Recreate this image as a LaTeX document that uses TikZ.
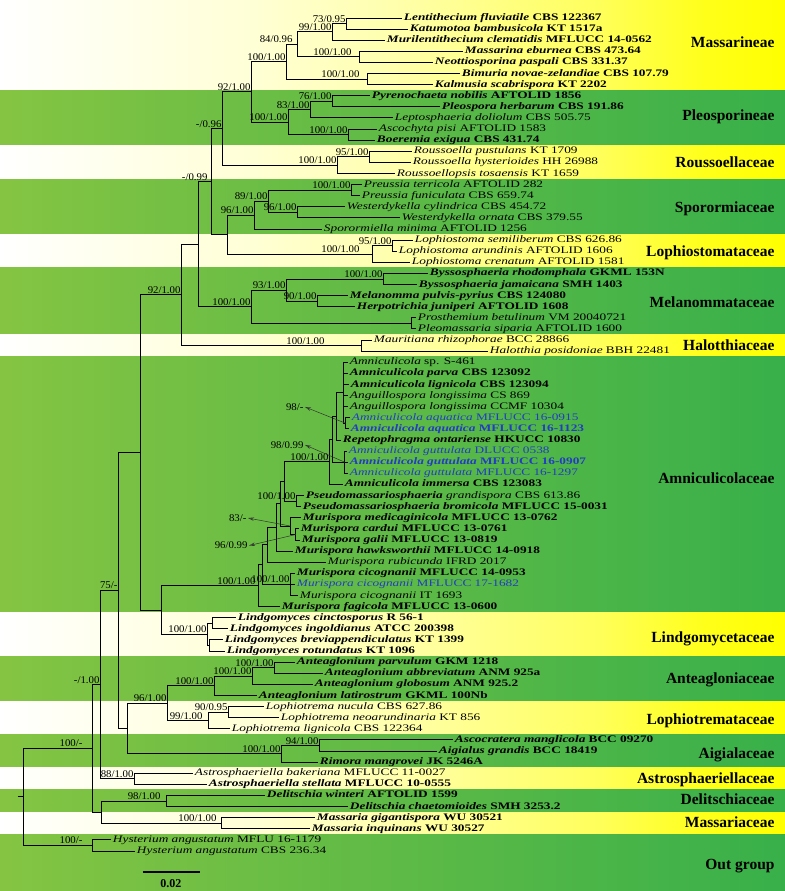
\documentclass[tikz,border=0pt]{standalone}
\usepackage{fontspec}
\setmainfont[FakeStretch=1.33]{Liberation Serif}
\newfontfamily\supfont[FakeStretch=1.05]{Liberation Serif}
\newfontfamily\famfont{Liberation Serif}
\usetikzlibrary{calc,arrows.meta}

\definecolor{taxblue}{RGB}{35,60,195}
\pgfdeclarehorizontalshading{ylwband}{100bp}{rgb(0bp)=(1,1,1); rgb(25bp)=(1,1,1); rgb(41bp)=(1,1,0.84); rgb(50bp)=(1,1,0.68); rgb(63bp)=(1,1,0.36); rgb(70bp)=(1,1,0.1); rgb(75bp)=(1,1,0); rgb(100bp)=(1,1,0)}
\pgfdeclarehorizontalshading{grnband}{100bp}{rgb(0bp)=(0.52,0.77,0.26); rgb(25bp)=(0.52,0.77,0.26); rgb(75bp)=(0.22,0.69,0.29); rgb(100bp)=(0.22,0.69,0.29)}

\newcommand{\bt}[2]{\textbf{\textit{#1} #2}}
\newcommand{\rt}[2]{\textit{#1} #2}
% clade: [label shift]{name}{x}{child}{child}{support}
\newcommand{\clade}[6][0]{%
  \path let \p1=(#4), \p2=(#5) in coordinate (#2) at (#3pt,{0.5*(\y1+\y2)});
  \draw (#2) |- (#4);
  \draw (#2) |- (#5);
  \if\relax\detokenize{#6}\relax\else
    \node (#2l) [supp, anchor=base east] at ([xshift=#1pt, yshift=1.5pt]#2) {#6};
  \fi}

\tikzset{leaf/.style={anchor=west, inner sep=1.5pt, text height=7pt, text depth=2pt,
                      font=\fontsize{10}{11}\selectfont},
         supp/.style={font=\supfont\fontsize{10.3}{11}\selectfont, inner sep=1pt},
         fam/.style={font=\famfont\fontsize{15.5}{16}\selectfont\bfseries, anchor=base east, inner sep=0pt},
         pointer/.style={-{Stealth[length=6pt,width=3.5pt,open]}, line width=0.5pt, black!80}}

\begin{document}
\begin{tikzpicture}[x=1pt, y=-11.107pt, line width=1pt]
\useasboundingbox (0,-0.6206) rectangle (785,79.6004);

\foreach \ya/\yb/\sh in {-0.63/7.5/ylwband, 7.5/12.5/grnband, 12.5/15.5/ylwband,
    15.5/20.5/grnband, 20.5/23.5/ylwband, 23.5/29.5/grnband, 29.5/31.5/ylwband,
    31.5/54.5/grnband, 54.5/58.5/ylwband, 58.5/62.5/grnband, 62.5/65.5/ylwband,
    65.5/68.5/grnband, 68.5/70.5/ylwband, 70.5/72.5/grnband, 72.5/74.5/ylwband,
    74.5/79.61/grnband}
  \shade[shading=\sh] (0,\ya) rectangle (785,\yb);

\foreach \row/\tip/\txt/\col in {
  1/402/{\bt{Lentithecium fluviatile}{CBS 122367}}/black,
  2/408/{\bt{Katumotoa bambusicola}{KT 1517a}}/black,
  3/385/{\bt{Murilentithecium clematidis}{MFLUCC 14-0562}}/black,
  4/463/{\bt{Massarina eburnea}{CBS 473.64}}/black,
  5/433/{\bt{Neottiosporina paspali}{CBS 331.37}}/black,
  6/460/{\bt{Bimuria novae-zelandiae}{CBS 107.79}}/black,
  7/433/{\bt{Kalmusia scabrispora}{KT 2202}}/black,
  8/370/{\bt{Pyrenochaeta nobilis}{AFTOLID 1856}}/black,
  9/440/{\bt{Pleospora herbarum}{CBS 191.86}}/black,
  10/393/{\rt{Leptosphaeria doliolum}{CBS 505.75}}/black,
  11/377/{\rt{Ascochyta pisi}{AFTOLID 1583}}/black,
  12/375/{\bt{Boeremia exigua}{CBS 431.74}}/black,
  13/412/{\rt{Roussoella pustulans}{KT 1709}}/black,
  14/411/{\rt{Roussoella hysterioides}{HH 26988}}/black,
  15/395/{\rt{Roussoellopsis tosaensis}{KT 1659}}/black,
  16/362/{\rt{Preussia terricola}{AFTOLID 282}}/black,
  17/360/{\rt{Preussia funiculata}{CBS 659.74}}/black,
  18/345/{\rt{Westerdykella cylindrica}{CBS 454.72}}/black,
  19/400/{\rt{Westerdykella ornata}{CBS 379.55}}/black,
  20/322/{\rt{Sporormiella minima}{AFTOLID 1256}}/black,
  21/413/{\rt{Lophiostoma semiliberum}{CBS 626.86}}/black,
  22/397/{\rt{Lophiostoma arundinis}{AFTOLID 1606}}/black,
  23/410/{\rt{Lophiostoma crenatum}{AFTOLID 1581}}/black,
  24/428/{\bt{Byssosphaeria rhodomphala}{GKML 153N}}/black,
  25/417/{\bt{Byssosphaeria jamaicana}{SMH 1403}}/black,
  26/348/{\bt{Melanomma pulvis-pyrius}{CBS 124080}}/black,
  27/355/{\bt{Herpotrichia juniperi}{AFTOLID 1608}}/black,
  28/416/{\rt{Prosthemium betulinum}{VM 20040721}}/black,
  29/416/{\rt{Pleomassaria siparia}{AFTOLID 1600}}/black,
  30/372/{\rt{Mauritiana rhizophorae}{BCC 28866}}/black,
  31/488/{\rt{Halotthia posidoniae}{BBH 22481}}/black,
  32/348/{\rt{Amniculicola}{sp. S-461}}/black,
  33/348/{\bt{Amniculicola parva}{CBS 123092}}/black,
  34/349/{\bt{Amniculicola lignicola}{CBS 123094}}/black,
  35/348/{\rt{Anguillospora longissima}{CS 869}}/black,
  36/348/{\rt{Anguillospora longissima}{CCMF 10304}}/black,
  37/350/{\rt{Amniculicola aquatica}{MFLUCC 16-0915}}/taxblue,
  38/349/{\bt{Amniculicola aquatica}{MFLUCC 16-1123}}/taxblue,
  39/341/{\bt{Repetophragma ontariense}{HKUCC 10830}}/black,
  40/347/{\rt{Amniculicola guttulata}{DLUCC 0538}}/taxblue,
  41/348/{\bt{Amniculicola guttulata}{MFLUCC 16-0907}}/taxblue,
  42/348/{\rt{Amniculicola guttulata}{MFLUCC 16-1297}}/taxblue,
  43/343/{\bt{Amniculicola immersa}{CBS 123083}}/black,
  44/304/{\textbf{\textit{Pseudomassariosphaeria}} \textit{grandispora} CBS 613.86}/black,
  45/301/{\bt{Pseudomassariosphaeria bromicola}{MFLUCC 15-0031}}/black,
  46/301/{\bt{Murispora medicaginicola}{MFLUCC 13-0762}}/black,
  47/299/{\bt{Murispora cardui}{MFLUCC 13-0761}}/black,
  48/300/{\bt{Murispora galii}{MFLUCC 13-0819}}/black,
  49/293/{\bt{Murispora hawksworthii}{MFLUCC 14-0918}}/black,
  50/326/{\rt{Murispora rubicunda}{IFRD 2017}}/black,
  51/295/{\bt{Murispora cicognanii}{MFLUCC 14-0953}}/black,
  52/295/{\rt{Murispora cicognanii}{MFLUCC 17-1682}}/taxblue,
  53/298/{\rt{Murispora cicognanii}{IT 1693}}/black,
  54/280/{\bt{Murispora fagicola}{MFLUCC 13-0600}}/black,
  55/236/{\bt{Lindgomyces cinctosporus}{R 56-1}}/black,
  56/228/{\bt{Lindgomyces ingoldianus}{ATCC 200398}}/black,
  57/223/{\bt{Lindgomyces breviappendiculatus}{KT 1399}}/black,
  58/225/{\bt{Lindgomyces rotundatus}{KT 1096}}/black,
  59/295/{\bt{Anteaglonium parvulum}{GKM 1218}}/black,
  60/323/{\bt{Anteaglonium abbreviatum}{ANM 925a}}/black,
  61/313/{\bt{Anteaglonium globosum}{ANM 925.2}}/black,
  62/257/{\bt{Anteaglonium latirostrum}{GKML 100Nb}}/black,
  63/264/{\rt{Lophiotrema nucula}{CBS 627.86}}/black,
  64/279/{\rt{Lophiotrema neoarundinaria}{KT 856}}/black,
  65/230/{\rt{Lophiotrema lignicola}{CBS 122364}}/black,
  66/453/{\bt{Ascocratera manglicola}{BCC 09270}}/black,
  67/437/{\bt{Aigialus grandis}{BCC 18419}}/black,
  68/318/{\bt{Rimora mangrovei}{JK 5246A}}/black,
  69/193/{\rt{Astrosphaeriella bakeriana}{MFLUCC 11-0027}}/black,
  70/207/{\bt{Astrosphaeriella stellata}{MFLUCC 10-0555}}/black,
  71/265/{\bt{Delitschia winteri}{AFTOLID 1599}}/black,
  72/348/{\bt{Delitschia chaetomioides}{SMH 3253.2}}/black,
  73/315/{\bt{Massaria gigantispora}{WU 30521}}/black,
  74/310/{\bt{Massaria inquinans}{WU 30527}}/black,
  75/111/{\rt{Hysterium angustatum}{MFLU 16-1179}}/black,
  76/135/{\rt{Hysterium angustatum}{CBS 236.34}}/black}
  \node (t\row) [leaf, text=\col] at (\tip,\row) {\txt};

% Massarineae, Pleosporineae
\clade{n73}{347}{t1.west}{t2.west}{73/0.95}
\clade{n99}{333}{n73}{t3.west}{99/1.00}
\clade[-7]{nMsa}{360}{t4.west}{t5.west}{100/1.00}
\clade[-4]{n84}{298}{n99}{nMsa}{84/0.96}
\clade[-7]{nBim}{368}{t6.west}{t7.west}{100/1.00}
\clade{nMasR}{287}{n84}{nBim}{100/1.00}
\clade{n76}{333}{t8.west}{t9.west}{76/1.00}
\clade{n83}{311}{n76}{t10.west}{83/1.00}
\clade{nAsc}{349}{t11.west}{t12.west}{100/1.00}
\clade{nPle}{289}{n83}{nAsc}{100/1.00}
\clade{nA}{252}{nMasR}{nPle}{92/1.00}
\clade{nRou}{370}{t13.west}{t14.west}{95/1.00}
\clade{nRouR}{338}{nRou}{t15.west}{100/1.00}
\clade{nB}{223}{nA}{nRouR}{-/0.96}
% Sporormiaceae, Lophiostomataceae
\clade{nPre}{352}{t16.west}{t17.west}{100/1.00}
\clade{nWes}{298}{t18.west}{t19.west}{96/1.00}
\clade{n89}{269}{nPre}{nWes}{89/1.00}
\clade{nSpo}{255}{n89}{t20.west}{96/1.00}
\clade{nLo95}{393}{t21.west}{t22.west}{95/1.00}
\clade[-12]{nLop}{373}{nLo95}{t23.west}{100/1.00}
\clade{nE}{228}{nSpo}{nLop}{}
\clade[-3]{nC}{212}{nB}{nE}{-/0.99}
% Melanommataceae, Halotthiaceae
\clade{nBys}{384}{t24.west}{t25.west}{100/1.00}
\clade{nMe90}{318}{t26.west}{t27.west}{90/1.00}
\clade{nMe93}{287}{nBys}{nMe90}{93/1.00}
\clade{nPro}{412}{t28.west}{t29.west}{}
\clade{nMel}{252}{nMe93}{nPro}{100/1.00}
\clade{nD}{199}{nC}{nMel}{}
\clade[-36]{nHal}{362}{t30.west}{t31.west}{100/1.00}
\clade{nF}{182}{nD}{nHal}{92/1.00}
% Amniculicolaceae
\clade{nAq}{346}{t37.west}{t38.west}{}
\clade{nAmC}{344}{t32.west}{nAq}{}
\foreach \k in {33,...,36} \draw (nAmC) |- (t\k.west);
\clade{nK2}{337}{nAmC}{t39.west}{}
\clade{nGut}{345}{t40.west}{t42.west}{}
\draw (nGut) |- (t41.west);
\clade{nK3}{333}{nK2}{nGut}{}
\clade{nK4}{330}{nK3}{t43.west}{100/1.00}
\clade{nPse}{297}{t44.west}{t45.west}{100/1.00}
\clade{nN1}{285}{nK4}{nPse}{}
\clade{nMu1}{296}{t47.west}{t48.west}{}
\clade{nMu2}{291}{t46.west}{nMu1}{}
\clade{nN2}{281}{nN1}{nMu2}{}
\clade{nN3}{277}{nN2}{t49.west}{}
\clade{nN4}{268}{nN3}{t50.west}{}
\clade{nCic}{291}{t51.west}{t53.west}{100/1.00}
\draw (nCic) |- (t52.west);
\clade{nX}{263}{nN4}{nCic}{}
\clade[-2]{nAmR}{259}{nX}{t54.west}{100/1.00}
\node (lab98a) [supp, anchor=east] at (305,36.02) {98/-};
\node (lab98b) [supp, anchor=east] at (305,39.44) {98/0.99};
\node (lab83) [supp, anchor=east] at (248,46.02) {83/-};
\node (lab96) [supp, anchor=east] at (249,48.5) {96/0.99};
\draw[pointer] (nAq) -- (lab98a.east);
\draw[pointer] (nGut) -- (lab98b.east);
\draw[pointer] (nMu2) -- (lab83.east);
\draw[pointer] (nMu1) -- (lab96.east);
% Lindgomycetaceae to Aigialaceae
\clade{nLi1}{213}{t55.west}{t56.west}{}
\clade{nLi2}{210}{t57.west}{t58.west}{}
\clade{nLin}{208}{nLi1}{nLi2}{100/1.00}
\clade{nH}{162}{nAmR}{nLin}{}
\clade{nG}{141}{nF}{nH}{}
\clade{nAn1}{275}{t59.west}{t60.west}{100/1.00}
\clade{nAn2}{253}{nAn1}{t61.west}{100/1.00}
\clade{nAnt}{215}{nAn2}{t62.west}{100/1.00}
\clade{nLt1}{229}{t63.west}{t64.west}{90/0.95}
\clade[-5]{nLt}{209}{nLt1}{t65.west}{99/1.00}
\clade{nQ}{168}{nAnt}{nLt}{96/1.00}
\clade{nAi1}{320}{t66.west}{t67.west}{94/1.00}
\clade{nAig}{282}{nAi1}{t68.west}{100/1.00}
\clade{nP}{128}{nQ}{nAig}{}
\clade{nI}{119}{nG}{nP}{75/-}
% basal families, out group
\clade{nAst}{135}{t69.west}{t70.west}{88/1.00}
\clade{nJ}{101}{nI}{nAst}{-/1.00}
\clade[-5]{nDel}{167}{t71.west}{t72.west}{98/1.00}
\clade[-4]{nMsr}{222}{t73.west}{t74.west}{100/1.00}
\clade{nS}{102}{nDel}{nMsr}{}
\clade[-9]{nK}{93}{nJ}{nS}{100/-}
\clade[-9]{nHys}{93}{t75.west}{t76.west}{100/-}
\clade{nRoot}{24}{nK}{nHys}{}
\coordinate (base) at ([xshift=-6pt]nRoot);
\draw (base) -- (nRoot);

\foreach \row/\name [count=\k] in {3.64/Massarineae, 10.21/Pleosporineae,
    14.44/Roussoellaceae, 18.49/Sporormiaceae, 22.45/Lophiostomataceae,
    27.05/Melanommataceae, 30.92/Halotthiaceae, 42.89/Amniculicolaceae,
    57.21/Lindgomycetaceae, 60.90/Anteagloniaceae, 64.59/Lophiotremataceae,
    67.65/Aigialaceae, 69.90/Astrosphaeriellaceae, 71.79/Delitschiaceae,
    73.86/Massariaceae, 77.65/Out group}
  \node (fam\k) [fam] at (775,\row) {\name};

\coordinate (sbl) at (143,77.89);
\coordinate (sbr) at (200,77.89);
\draw[line width=2.2pt] (sbl) -- (sbr);
\node (sbtxt) [font=\famfont\fontsize{12}{12}\selectfont\bfseries] at (171,78.9) {0.02};
\end{tikzpicture}
\end{document}
